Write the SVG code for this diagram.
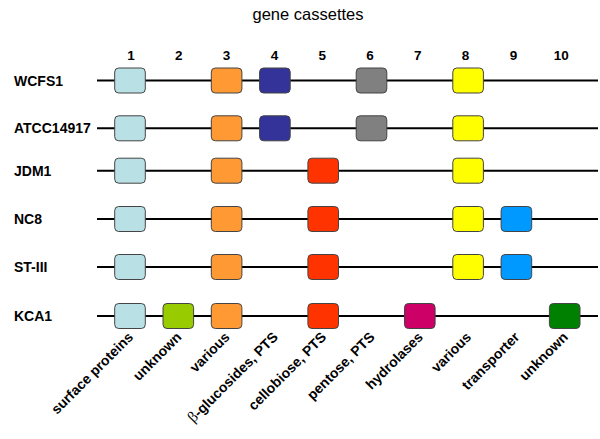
<svg xmlns="http://www.w3.org/2000/svg" width="600" height="439" viewBox="0 0 600 439">
<style>
.t{font-family:"Liberation Sans",Arial,sans-serif;fill:#000}
.title{font-size:16.5px;text-anchor:middle}
.row{font-size:14px;font-weight:bold}
.num{font-size:13.5px;font-weight:bold;text-anchor:middle}
.lab{font-size:14px;font-weight:bold;text-anchor:end}
.ln{stroke:#000;stroke-width:2;fill:none}
.b{stroke:#444;stroke-width:1}
.c1{fill:#b9e1e5}.c2{fill:#99cc00}.c3{fill:#ff9933}.c4{fill:#333399}.c5{fill:#ff3300}
.c6{fill:#808080}.c7{fill:#cc0066}.c8{fill:#ffff00}.c9{fill:#0099ff}.c10{fill:#008000}
</style>
<defs>
<rect id="bx" x="-15.3" y="-12.5" width="30.6" height="25" rx="4"/>
</defs>
<text class="t title" x="308" y="20">gene cassettes</text>
<g id="numbers">
<text class="t num" x="131" y="60">1</text>
<text class="t num" x="178.8" y="60">2</text>
<text class="t num" x="226.6" y="60">3</text>
<text class="t num" x="274.4" y="60">4</text>
<text class="t num" x="322.2" y="60">5</text>
<text class="t num" x="370" y="60">6</text>
<text class="t num" x="417.8" y="60">7</text>
<text class="t num" x="465.6" y="60">8</text>
<text class="t num" x="513.4" y="60">9</text>
<text class="t num" x="561.2" y="60">10</text>
</g>
<g id="connectors">
<line class="ln" x1="97" y1="80.5" x2="598" y2="80.5"/>
<line class="ln" x1="97" y1="128.3" x2="598" y2="128.3"/>
<line class="ln" x1="97" y1="170.7" x2="598" y2="170.7"/>
<line class="ln" x1="97" y1="219" x2="598" y2="219"/>
<line class="ln" x1="97" y1="267" x2="598" y2="267"/>
<line class="ln" x1="97" y1="316" x2="598" y2="316"/>
</g>
<g id="WCFS1">
<text class="t row" x="14" y="85.5">WCFS1</text>
<use href="#bx" class="b c1" x="130" y="80.5"/>
<use href="#bx" class="b c3" x="226.6" y="80.5"/>
<use href="#bx" class="b c4" x="274.9" y="80.5"/>
<use href="#bx" class="b c6" x="371.5" y="80.5"/>
<use href="#bx" class="b c8" x="468.1" y="80.5"/>
</g>
<g id="ATCC14917">
<text class="t row" x="14" y="133.3">ATCC14917</text>
<use href="#bx" class="b c1" x="130" y="128.3"/>
<use href="#bx" class="b c3" x="226.6" y="128.3"/>
<use href="#bx" class="b c4" x="274.9" y="128.3"/>
<use href="#bx" class="b c6" x="371.5" y="128.3"/>
<use href="#bx" class="b c8" x="468.1" y="128.3"/>
</g>
<g id="JDM1">
<text class="t row" x="14" y="175.7">JDM1</text>
<use href="#bx" class="b c1" x="130" y="170.7"/>
<use href="#bx" class="b c3" x="226.6" y="170.7"/>
<use href="#bx" class="b c5" x="323.2" y="170.7"/>
<use href="#bx" class="b c8" x="468.1" y="170.7"/>
</g>
<g id="NC8">
<text class="t row" x="14" y="224">NC8</text>
<use href="#bx" class="b c1" x="130" y="219"/>
<use href="#bx" class="b c3" x="226.6" y="219"/>
<use href="#bx" class="b c5" x="323.2" y="219"/>
<use href="#bx" class="b c8" x="468.1" y="219"/>
<use href="#bx" class="b c9" x="516.4" y="219"/>
</g>
<g id="ST-III">
<text class="t row" x="14" y="272">ST-III</text>
<use href="#bx" class="b c1" x="130" y="267"/>
<use href="#bx" class="b c3" x="226.6" y="267"/>
<use href="#bx" class="b c5" x="323.2" y="267"/>
<use href="#bx" class="b c8" x="468.1" y="267"/>
<use href="#bx" class="b c9" x="516.4" y="267"/>
</g>
<g id="KCA1">
<text class="t row" x="14" y="321">KCA1</text>
<use href="#bx" class="b c1" x="130" y="316"/>
<use href="#bx" class="b c2" x="178.3" y="316"/>
<use href="#bx" class="b c3" x="226.6" y="316"/>
<use href="#bx" class="b c5" x="323.2" y="316"/>
<use href="#bx" class="b c7" x="419.8" y="316"/>
<use href="#bx" class="b c10" x="564.7" y="316"/>
</g>
<g id="legend">
<text class="t lab" transform="translate(134,338) rotate(-45)">surface proteins</text>
<text class="t lab" transform="translate(182.3,338) rotate(-45)">unknown</text>
<text class="t lab" transform="translate(230.6,338) rotate(-45)">various</text>
<text class="t lab" transform="translate(278.9,338) rotate(-45)"><tspan style="font-family:'Liberation Serif',serif;font-weight:normal;font-size:15.5px">β</tspan>-glucosides, PTS</text>
<text class="t lab" transform="translate(327.2,338) rotate(-45)">cellobiose, PTS</text>
<text class="t lab" transform="translate(375.5,338) rotate(-45)">pentose, PTS</text>
<text class="t lab" transform="translate(423.8,338) rotate(-45)">hydrolases</text>
<text class="t lab" transform="translate(472.1,338) rotate(-45)">various</text>
<text class="t lab" transform="translate(520.4,338) rotate(-45)">transporter</text>
<text class="t lab" transform="translate(568.7,338) rotate(-45)">unknown</text>
</g>
</svg>
